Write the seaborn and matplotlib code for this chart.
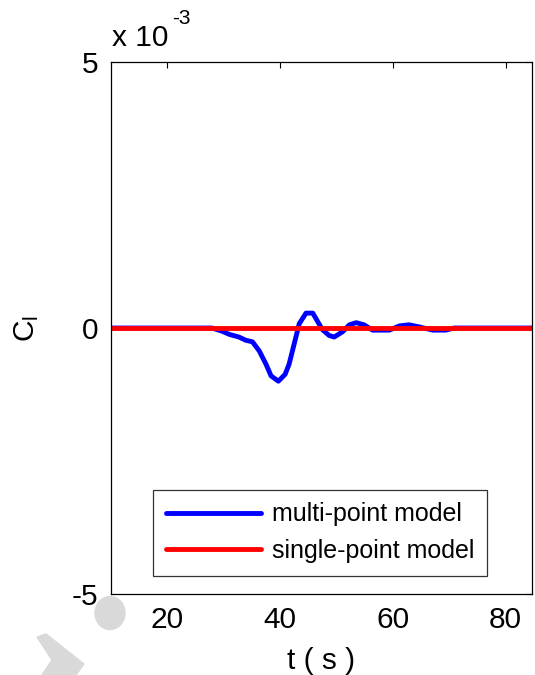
import numpy as np
import pandas as pd
import matplotlib
matplotlib.use("Agg")
import matplotlib.pyplot as plt
import seaborn as sns
from matplotlib.patches import Ellipse, Polygon

# ---- data (C_l values in units of 1e-3) ----
t_multi = [10, 20, 27.9, 29.7, 31.0, 32.7, 33.9, 35.1, 36.3, 37.5, 38.4, 39.7, 40.9,
           41.6, 42.5, 43.4, 44.6, 45.8, 47.5, 48.7, 49.6, 51.1, 52.3, 53.5, 54.9,
           56.4, 59.4, 61.2, 62.9, 64.7, 67.1, 69.4, 70.9, 75, 85]
cl_multi = [0, 0, 0, -0.06, -0.12, -0.17, -0.23, -0.26, -0.43, -0.68, -0.90, -1.0, -0.87,
            -0.68, -0.30, 0.08, 0.28, 0.28, -0.03, -0.14, -0.17, -0.07, 0.06, 0.10, 0.06,
            -0.04, -0.04, 0.04, 0.06, 0.02, -0.04, -0.04, 0.0, 0.0, 0.0]
t_single = [10, 85]
cl_single = [0, 0]
labels = ["multi-point model", "single-point model"]
colors = ["#0000ff", "#ff0000"]
xticks = [20, 40, 60, 80]
yticks = [-5, 0, 5]

df = pd.concat([
    pd.DataFrame({"t": t_multi, "cl": np.array(cl_multi) * 1e-3, "model": labels[0]}),
    pd.DataFrame({"t": t_single, "cl": np.array(cl_single) * 1e-3, "model": labels[1]}),
])

sns.set_style("white")
plt.rcParams["font.family"] = ["Liberation Sans", "DejaVu Sans"]
plt.rcParams["mathtext.fontset"] = "custom"
plt.rcParams["mathtext.rm"] = "Liberation Sans"
plt.rcParams["text.color"] = "black"
plt.rcParams["axes.labelcolor"] = "black"

fig = plt.figure(figsize=(5.35, 6.75), dpi=100)
ax = fig.add_axes([111 / 535, (675 - 594) / 675, (532 - 111) / 535, (594 - 62) / 675])

sns.lineplot(data=df, x="t", y="cl", hue="model", palette=colors, linewidth=3.5,
             ax=ax, sort=False, estimator=None)

ax.set_xlim(10, 84.7)
ax.set_ylim(-5e-3, 5e-3)
ax.set_xticks(xticks)
ax.set_xticklabels([str(v) for v in xticks])
ax.set_yticks([v * 1e-3 for v in yticks])
ax.set_yticklabels([str(v) for v in yticks])
ax.tick_params(direction="in", length=4, width=0.8, top=True, right=True,
               labelsize=21.5, pad=9, colors="black")
for s in ax.spines.values():
    s.set_visible(True)
    s.set_color("black")
    s.set_linewidth(0.9)

ax.set_xlabel("t ( s )", fontsize=21.5, labelpad=9)
ax.set_ylabel(r"$\mathregular{C_l}$", fontsize=21.5, labelpad=22)

fig.text(112 / 535, 1 - 38 / 675, "x 10", fontsize=21.5, ha="left", va="center")
fig.text(172 / 535, 1 - 18 / 675, "-3", fontsize=15, ha="left", va="center")

leg = ax.legend(loc="upper left", bbox_to_anchor=((153 - 111) / 421, (594 - 490) / 532),
                frameon=True, fancybox=False, fontsize=18, handlelength=3.8,
                handletextpad=0.45, labelspacing=0.5, borderpad=0.5, borderaxespad=0)
leg.get_frame().set_edgecolor("black")
leg.get_frame().set_linewidth(0.9)
for txt in leg.get_texts():
    txt.set_color("black")

# watermark shapes
fig.patches.append(Ellipse((110 / 535, 1 - 613 / 675), 30 / 535, 33 / 675,
                           transform=fig.transFigure, color="#d9d9d9", zorder=0))
poly = [(37, 637), (46, 634), (84, 664), (76, 675), (42, 675), (52, 660)]
fig.patches.append(Polygon([(x / 535, 1 - y / 675) for x, y in poly],
                           transform=fig.transFigure, color="#d9d9d9", zorder=0))

fig.savefig("out.png", dpi=100)
